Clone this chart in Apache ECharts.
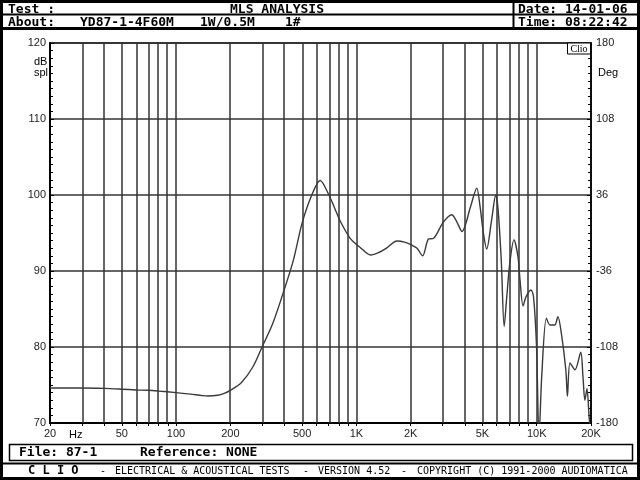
<!DOCTYPE html>
<html><head><meta charset="utf-8">
<script src="https://cdn.jsdelivr.net/npm/echarts@6/dist/echarts.min.js"></script>
<style>html,body{margin:0;padding:0;background:#fff}#c{width:640px;height:480px}</style>
</head><body><div id="c"></div>
<script>
// ---- data ----
const freqHz = [20,25,30,40,50,60,70,80,100,120,140,150,170,185,200,230,267,300,345,400,447,500,566,630,698,760,812,924,1050,1200,1350,1470,1680,1850,2030,2170,2330,2510,2680,3030,3380,3600,3850,4300,4650,4850,5060,5280,5620,5930,6100,6360,6600,6800,7090,7480,7870,8080,8400,8720,9290,9600,9980,10300,10660,11320,11840,12600,13100,13700,14500,14800,15300,16300,17540,18050,18500,19000,19500,20000];
const splDb = [74.6,74.6,74.6,74.55,74.45,74.35,74.3,74.2,74.0,73.8,73.6,73.55,73.65,73.9,74.3,75.3,77.4,80.0,83.2,87.7,91.4,96.3,100.0,101.9,100.2,98.2,96.6,94.3,93.1,92.1,92.5,93.0,93.95,93.8,93.4,93.0,92.0,94.2,94.3,96.4,97.4,96.5,95.2,98.5,100.9,98.5,95.0,92.9,96.7,100.0,98.2,91.4,82.7,86.2,91.0,94.1,91.9,88.8,85.4,86.6,87.5,86.6,80.0,68.0,76.1,83.8,82.9,82.9,84.0,81.8,77.0,73.5,77.9,77.0,79.3,76.1,73.0,74.5,71.0,68.0];
const xGridHz = [20,30,40,50,60,70,80,90,100,200,300,400,500,600,700,800,900,1000,2000,3000,4000,5000,6000,7000,8000,9000,10000,20000];
const xLabelHz = [20,50,100,200,500,1000,2000,5000,10000,20000];
const xLabelText = ['20','50','100','200','500','1K','2K','5K','10K','20K'];
const splTicks = [70,80,90,100,110,120];
const phaseTicks = [-180,-108,-36,36,108,180];

const lg = Math.log10;
const chart = echarts.init(document.getElementById('c'), null, {renderer:'canvas'});
const mono = 'DejaVu Sans Mono';
const axFont = {fontFamily:'Liberation Sans', fontSize:11, color:'#222'};

function labelFor(v){
  for (let i=0;i<xLabelHz.length;i++) if (Math.abs(lg(xLabelHz[i])-v)<1e-6) return xLabelText[i];
  return '';
}
function txt(text, x, y, font, align){
  return {type:'text', z:20, style:{text:text, x:x, y:y, font:font, fill:'#000', align:align||'left', verticalAlign:'middle', textAlign:align||'left', textVerticalAlign:'middle'}};
}

const option = {
  animation:false,
  backgroundColor:'#fff',
  grid:{left:50, right:49, top:43, bottom:57, show:true, borderColor:'#000', borderWidth:1.5, backgroundColor:'transparent'},
  xAxis:{
    type:'value', min:lg(20), max:lg(20000),
    axisLine:{show:true, onZero:false, lineStyle:{color:'#000', width:2}},
    axisTick:{show:true, length:3, customValues:xGridHz.map(lg), lineStyle:{color:'#000'}},
    axisLabel:{customValues:xLabelHz.map(lg), formatter:labelFor, margin:5, ...axFont},
    splitLine:{show:false}
  },
  yAxis:[{
    type:'value', min:splTicks[0], max:splTicks[splTicks.length-1], interval:10,
    axisLine:{show:true, lineStyle:{color:'#000', width:2}},
    axisTick:{show:true, inside:true, length:4, lineStyle:{color:'#000'}},
    minorTick:{show:true, splitNumber:10, length:3, lineStyle:{color:'#000'}},
    axisLabel:{margin:4, ...axFont},
    splitLine:{show:true, lineStyle:{color:'#333', width:1.5}}
  },{
    type:'value', min:phaseTicks[0], max:phaseTicks[phaseTicks.length-1], interval:72, position:'right',
    axisLine:{show:true, lineStyle:{color:'#000', width:1.5}},
    axisTick:{show:true, inside:true, length:4, lineStyle:{color:'#000'}},
    minorTick:{show:true, splitNumber:10, length:3, lineStyle:{color:'#000'}},
    axisLabel:{margin:5, ...axFont},
    splitLine:{show:false}
  }],
  series:[{
    type:'line', yAxisIndex:0, showSymbol:false, symbol:'none', smooth:0.3, clip:true,
    data:freqHz.map((f,i)=>[lg(f), splDb[i]]),
    lineStyle:{color:'#3a3a3a', width:1.4},
    markLine:{
      silent:true, symbol:'none', animation:false,
      label:{show:false},
      lineStyle:{color:'#333', width:1.5, type:'solid'},
      data:xGridHz.slice(1,-1).map(f=>({xAxis:lg(f)}))
    },
    z:5
  }],
  graphic:[
    {type:'rect', shape:{x:1.5,y:1.5,width:637,height:477}, style:{fill:'none', stroke:'#000', lineWidth:3}, silent:true},
    {type:'line', shape:{x1:0,y1:14.5,x2:640,y2:14.5}, style:{stroke:'#000', lineWidth:2}},
    {type:'line', shape:{x1:0,y1:28.5,x2:640,y2:28.5}, style:{stroke:'#000', lineWidth:3}},
    {type:'line', shape:{x1:513.5,y1:0,x2:513.5,y2:28}, style:{stroke:'#000', lineWidth:2}},
    txt('Test :', 8, 9.5, 'bold 13px '+mono),
    txt('MLS ANALYSIS', 277, 9.5, 'bold 13px '+mono, 'center'),
    txt('Date: 14-01-06', 518, 9.5, 'bold 13px '+mono),
    txt('About:', 8, 22.5, 'bold 13px '+mono),
    txt('YD87-1-4F60M', 80, 22.5, 'bold 13px '+mono),
    txt('1W/0.5M', 200, 22.5, 'bold 13px '+mono),
    txt('1#', 285, 22.5, 'bold 13px '+mono),
    txt('Time: 08:22:42', 518, 22.5, 'bold 13px '+mono),
    txt('dB', 34, 62, '11px Liberation Sans'),
    txt('spl', 34, 73, '11px Liberation Sans'),
    txt('Deg', 598, 73, '11px Liberation Sans'),
    txt('Hz', 69, 435, '11px Liberation Sans'),
    {type:'rect', shape:{x:567.5,y:43,width:23,height:11}, style:{fill:'#fff', stroke:'#000', lineWidth:1}, z:10},
    txt('Clio', 579, 49, '10px Liberation Serif', 'center'),
    {type:'rect', shape:{x:9.5,y:444.5,width:623,height:16}, style:{fill:'none', stroke:'#000', lineWidth:1.5}},
    txt('File: 87-1', 19, 453, 'bold 13px '+mono),
    txt('Reference: NONE', 140, 453, 'bold 13px '+mono),
    {type:'line', shape:{x1:0,y1:463.5,x2:640,y2:463.5}, style:{stroke:'#000', lineWidth:2}},
    txt('C L I O', 28, 471, 'bold 12px '+mono),
    txt('-', 100, 471, '10px '+mono),
    txt('ELECTRICAL & ACOUSTICAL TESTS', 115, 471, '10px '+mono),
    txt('-', 303, 471, '10px '+mono),
    txt('VERSION 4.52', 318, 471, '10px '+mono),
    txt('-', 401, 471, '10px '+mono),
    txt('COPYRIGHT (C) 1991-2000 AUDIOMATICA', 417, 471, '10px '+mono)
  ]
};
chart.setOption(option);
</script>
</body></html>
